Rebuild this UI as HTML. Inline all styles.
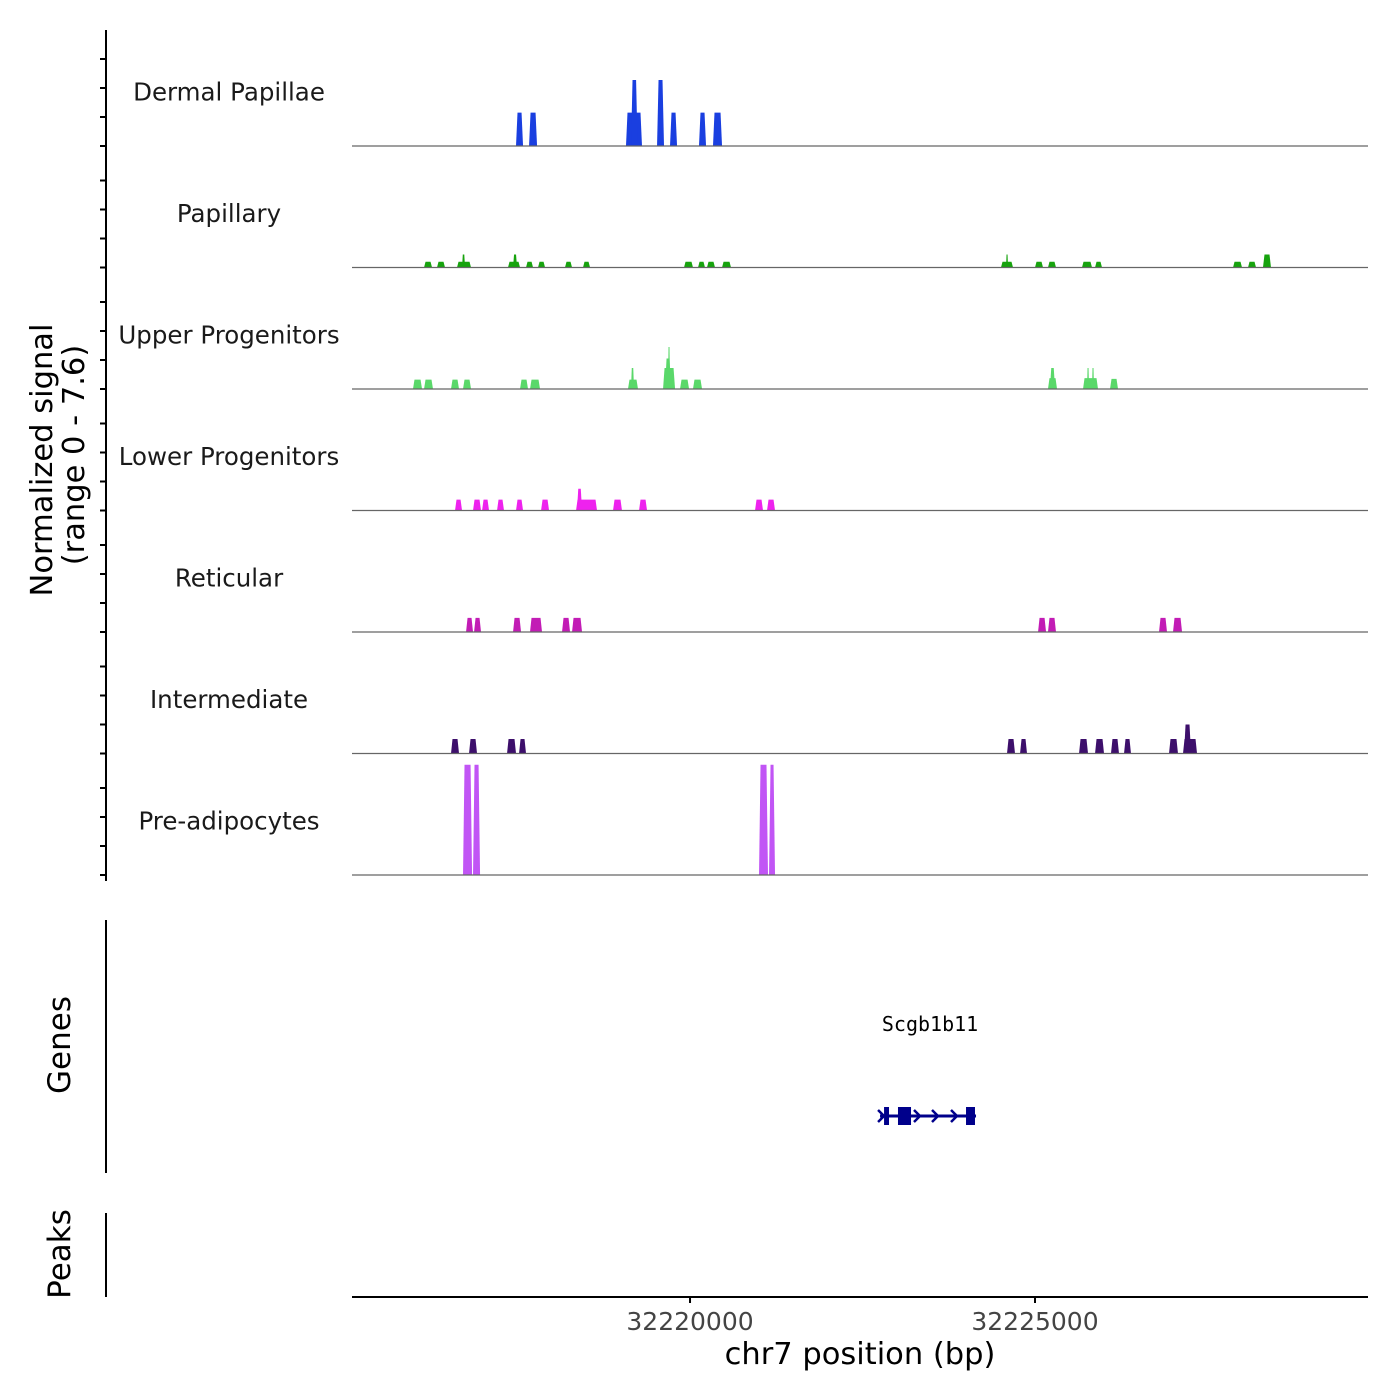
<!DOCTYPE html>
<html><head><meta charset="utf-8"><style>
html,body{margin:0;padding:0;background:#fff;}
svg{display:block;font-family:"DejaVu Sans","Liberation Sans",sans-serif;}
</style></head><body>
<svg id="chart" width="1400" height="1400" viewBox="0 0 1400 1400" xmlns="http://www.w3.org/2000/svg">
<rect x="0" y="0" width="1400" height="1400" fill="#fff"/>
<g id="tracks"></g>
<line x1="106" y1="30" x2="106" y2="881" stroke="#000" stroke-width="2"/>
<g id="yticks"></g>
<text transform="translate(52,460) rotate(-90)" text-anchor="middle" font-size="30.5" fill="#000">Normalized signal</text>
<text transform="translate(84,455) rotate(-90)" text-anchor="middle" font-size="30.5" fill="#000">(range 0 - 7.6)</text>
<line x1="106" y1="920" x2="106" y2="1173" stroke="#000" stroke-width="2"/>
<text transform="translate(70,1045) rotate(-90)" text-anchor="middle" font-size="31" fill="#000">Genes</text>
<line x1="106" y1="1213" x2="106" y2="1297" stroke="#000" stroke-width="2"/>
<text transform="translate(70,1254) rotate(-90)" text-anchor="middle" font-size="31" fill="#000">Peaks</text>
<g id="gene"></g>
<line x1="352" y1="1297" x2="1368" y2="1297" stroke="#000" stroke-width="2"/>
<g id="xticks"></g>
<text x="860" y="1364" text-anchor="middle" font-size="30.5" fill="#000">chr7 position (bp)</text>
</svg>
<script>
const trackNames = ["Dermal Papillae","Papillary","Upper Progenitors","Lower Progenitors","Reticular","Intermediate","Pre-adipocytes"];
const trackColors = ["#1a3fe0","#17a30e","#5ad86a","#ee22ee","#c21cb5","#3d0f6b","#c155f5"];
const xTickValues = [32220000, 32225000];
const xTickLabels = ["32220000", "32225000"];
const yTickValues = [0, 2, 4, 6];
const dermalStarts = [32217478,32217667,32219072,32219145,32219522,32219710,32220130,32220333];
const dermalEnds   = [32217580,32217783,32219304,32219240,32219623,32219812,32220232,32220464];
const dermalValues = [2.3,2.3,2.3,4.55,4.55,2.3,2.3,2.3];
const papStarts = [32216145,32216333,32216623,32216696,32217362,32217435,32217623,32217797,32218188,32218449,32219913,32220116,32220246,32220464,32224507,32224580,32225000,32225188,32225681,32225870,32227870,32228087,32228304];
const papEnds   = [32216261,32216449,32216826,32216739,32217536,32217493,32217725,32217899,32218290,32218551,32220043,32220217,32220362,32220594,32224681,32224609,32225116,32225304,32225826,32225971,32228000,32228203,32228420];
const papValues = [0.4,0.4,0.4,0.9,0.4,0.9,0.4,0.4,0.4,0.4,0.4,0.4,0.4,0.4,0.4,0.9,0.4,0.4,0.4,0.4,0.4,0.4,0.9];
const upStarts = [32215985,32216145,32216536,32216710,32217536,32217681,32219101,32219145,32219609,32219638,32219681,32219855,32220043,32225188,32225217,32225696,32225754,32225826,32226087];
const upEnds   = [32216116,32216275,32216652,32216826,32217652,32217826,32219246,32219188,32219783,32219725,32219710,32219986,32220174,32225319,32225290,32225913,32225783,32225855,32226203];
const upValues = [0.65,0.65,0.65,0.65,0.65,0.65,0.65,1.45,1.45,2.1,2.9,0.65,0.65,0.75,1.45,0.75,1.45,1.45,0.7];
const lowStarts = [32216594,32216855,32216986,32217203,32217478,32217841,32218348,32218362,32218884,32219261,32220942,32221116];
const lowEnds   = [32216696,32216971,32217087,32217304,32217580,32217957,32218652,32218435,32219014,32219377,32221058,32221232];
const lowValues = [0.75,0.75,0.75,0.75,0.75,0.75,0.75,1.5,0.75,0.75,0.75,0.75];
const retStarts = [32216754,32216870,32217435,32217681,32218145,32218290,32225044,32225188,32226797,32227000];
const retEnds   = [32216855,32216971,32217551,32217855,32218261,32218435,32225160,32225304,32226913,32227131];
const retValues = [0.97,0.97,0.97,0.97,0.97,0.97,0.97,0.97,0.97,0.97];
const intStarts = [32216536,32216797,32217348,32217522,32224594,32224783,32225638,32225870,32226101,32226290,32226942,32227145,32227160];
const intEnds   = [32216652,32216913,32217478,32217623,32224710,32224884,32225768,32226000,32226217,32226391,32227072,32227348,32227261];
const intValues = [1.0,1.0,1.0,1.0,1.0,1.0,1.0,1.0,1.0,1.0,1.0,1.0,2.0];
const preStarts = [32216710,32216855,32221000,32221145];
const preEnds   = [32216841,32216957,32221130,32221232];
const preValues = [7.6,7.6,7.6,7.6];
const geneName = "Scgb1b11";
const geneStart = 32222754, geneEnd = 32224145;
const exonStarts = [32222812,32223014,32224000];
const exonEnds   = [32222884,32223203,32224130];

const allStarts=[dermalStarts,papStarts,upStarts,lowStarts,retStarts,intStarts,preStarts];
const allEnds=[dermalEnds,papEnds,upEnds,lowEnds,retEnds,intEnds,preEnds];
const allValues=[dermalValues,papValues,upValues,lowValues,retValues,intValues,preValues];

const NS="http://www.w3.org/2000/svg";
const X0=352,X1=1368,BP0=32215101,BP1=32229826;
function xs(bp){return X0+(bp-BP0)/(BP1-BP0)*(X1-X0);}
const baselines=[146,267.5,389,510.5,632,753.5,875];
const PXU=14.5;
function ys(v,t){return baselines[t]-v*PXU;}
function mk(tag,attrs,parent){const e=document.createElementNS(NS,tag);for(const k in attrs)e.setAttribute(k,attrs[k]);parent.appendChild(e);return e;}

const tracks=document.getElementById('tracks');
for(let t=0;t<7;t++){
  const g=mk('g',{},tracks);
  
  
  const lab=mk('text',{x:229,y:baselines[t]-45.5,'text-anchor':'middle','font-size':24.5,fill:'#1a1a1a'},g);
  lab.textContent=trackNames[t];
  
  
  const s=allStarts[t],e=allEnds[t],v=allValues[t];
  for(let i=0;i<s.length;i++){
    const a=xs(s[i]),b=xs(e[i]),y=ys(v[i],t),y0=baselines[t];
    const tp=Math.min(1.5,(b-a)/4);
    const p=mk('polygon',{points:`${a},${y0} ${a+tp},${y} ${b-tp},${y} ${b},${y0}`,fill:trackColors[t]},g);
    
    
  }
  const bl=mk('line',{x1:X0,x2:X1,y1:baselines[t],y2:baselines[t],stroke:'#666','stroke-width':1.2},g);
  
  
}
const yt=document.getElementById('yticks');
for(let t=0;t<7;t++){for(const v of yTickValues){
  const l=mk('line',{x1:100,x2:106,y1:ys(v,t),y2:ys(v,t),stroke:'#000','stroke-width':2},yt);
  
  
}}
const xt=document.getElementById('xticks');
for(let i=0;i<xTickValues.length;i++){
  const x=xs(xTickValues[i]);
  const l=mk('line',{x1:x,x2:x,y1:1297,y2:1303,stroke:'#000','stroke-width':2},xt);
  
  
  const tx=mk('text',{x:x,y:1330,'text-anchor':'middle','font-size':25,fill:'#444'},xt);
  tx.textContent=xTickLabels[i];
  
  
}
const gg=document.getElementById('gene');
const gx0=xs(geneStart),gx1=xs(geneEnd),gy=1116;
const gl=mk('text',{x:(gx0+gx1)/2+2,y:1031,'text-anchor':'middle','font-size':20,fill:'#000','font-family':'"DejaVu Sans Mono","Liberation Mono",monospace'},gg);
gl.textContent=geneName;


const gline=mk('line',{x1:gx0,x2:gx1,y1:gy,y2:gy,stroke:'#00008b','stroke-width':3},gg);


for(let i=0;i<exonStarts.length;i++){
  const r=mk('rect',{x:xs(exonStarts[i]),y:gy-9,width:Math.max(3,xs(exonEnds[i])-xs(exonStarts[i])),height:18,fill:'#00008b'},gg);
  
  
}
const arrows=[gx0+2,918,936,955];
for(const ax of arrows){
  const p=mk('polyline',{points:`${ax-4},${gy-6} ${ax+2},${gy} ${ax-4},${gy+6}`,fill:'none',stroke:'#00008b','stroke-width':2.5},gg);
  
  
}
</script>
</body></html>
